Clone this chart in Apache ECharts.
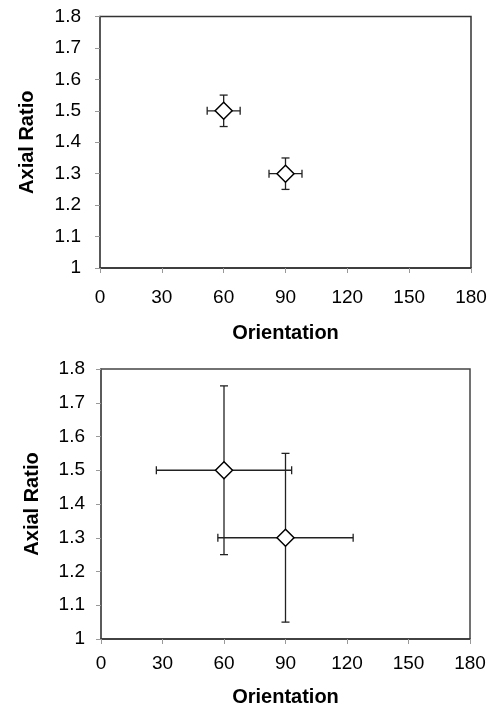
<!DOCTYPE html>
<html>
<head>
<meta charset="utf-8">
<script src="https://cdn.jsdelivr.net/npm/echarts@6/dist/echarts.min.js"></script>
<style>
  html, body { margin: 0; padding: 0; background: #fff; }
  #chart { width: 499px; height: 708px; }
</style>
</head>
<body>
<div id="chart"></div>
<script>
// data
var orientation = [60, 90];
var axialRatio = [1.5, 1.3];
// upper panel error bars
var topOrientErr = [8, 8];
var topRatioErr = [0.05, 0.05];
// lower panel error bars
var bottomOrientErr = [33, 33];
var bottomRatioErr = [0.25, 0.25];
// axes
var xRange = [0, 180], xStep = 30;
var yRange = [1, 1.8], yStep = 0.1;

var FONT = 'Liberation Sans, Arial, sans-serif';

function points() {
    return orientation.map(function (x, i) { return [x, axialRatio[i]]; });
}
function errData(xe, ye) {
    return orientation.map(function (x, i) { return [x, axialRatio[i], xe[i], ye[i]]; });
}

function renderErr(params, api) {
    var x = api.value(0), y = api.value(1), xe = api.value(2), ye = api.value(3);
    var l = api.coord([x - xe, y]), r = api.coord([x + xe, y]);
    var t = api.coord([x, y + ye]), b = api.coord([x, y - ye]);
    var c = 4;
    var st = { stroke: '#222', lineWidth: 1.3 };
    function ln(x1, y1, x2, y2) {
        return { type: 'line', shape: { x1: x1, y1: y1, x2: x2, y2: y2 }, style: st };
    }
    return {
        type: 'group',
        children: [
            ln(l[0], l[1], r[0], r[1]),
            ln(t[0], t[1], b[0], b[1]),
            ln(l[0], l[1] - c, l[0], l[1] + c),
            ln(r[0], r[1] - c, r[0], r[1] + c),
            ln(t[0] - c, t[1], t[0] + c, t[1]),
            ln(b[0] - c, b[1], b[0] + c, b[1])
        ]
    };
}

function xAxisCfg(idx, gap, margin) {
    return {
        type: 'value', gridIndex: idx, min: xRange[0], max: xRange[1], interval: xStep,
        name: 'Orientation', nameLocation: 'middle', nameGap: gap,
        nameTextStyle: { fontFamily: FONT, fontWeight: 'bold', fontSize: 20, color: '#000' },
        axisLine: { show: true, lineStyle: { color: '#333', width: 1.5 } },
        axisTick: { show: true, length: 5, lineStyle: { color: '#999' } },
        axisLabel: { fontFamily: FONT, fontSize: 19, color: '#000', margin: margin },
        splitLine: { show: false }
    };
}
function yAxisCfg(idx, gap, margin) {
    return {
        type: 'value', gridIndex: idx, min: yRange[0], max: yRange[1], interval: yStep,
        name: 'Axial Ratio', nameLocation: 'middle', nameGap: gap,
        nameTextStyle: { fontFamily: FONT, fontWeight: 'bold', fontSize: 20, color: '#000' },
        axisLine: { show: true, lineStyle: { color: '#555', width: 1.5 } },
        axisTick: { show: true, length: 5, lineStyle: { color: '#999' } },
        axisLabel: { fontFamily: FONT, fontSize: 19, color: '#000', margin: margin },
        splitLine: { show: false }
    };
}

var myChart = echarts.init(document.getElementById('chart'));
var option = {
    animation: false,
    backgroundColor: '#fff',
    grid: [
        { left: 100, top: 16.5, width: 371, height: 251.5, show: true, borderColor: '#333', borderWidth: 1.5 },
        { left: 101, top: 369, width: 369, height: 271, show: true, borderColor: '#444', borderWidth: 1.5 }
    ],
    xAxis: [xAxisCfg(0, 55, 20), xAxisCfg(1, 48, 15)],
    yAxis: [yAxisCfg(0, 63, 19), yAxisCfg(1, 59, 16)],
    series: [
        {
            type: 'custom', xAxisIndex: 0, yAxisIndex: 0, z: 2,
            renderItem: renderErr, data: errData(topOrientErr, topRatioErr)
        },
        {
            type: 'scatter', xAxisIndex: 0, yAxisIndex: 0, z: 3,
            symbol: 'diamond', symbolSize: 17,
            itemStyle: { color: '#fff', borderColor: '#000', borderWidth: 1.5, opacity: 1 },
            data: points()
        },
        {
            type: 'custom', xAxisIndex: 1, yAxisIndex: 1, z: 2,
            renderItem: renderErr, data: errData(bottomOrientErr, bottomRatioErr)
        },
        {
            type: 'scatter', xAxisIndex: 1, yAxisIndex: 1, z: 3,
            symbol: 'diamond', symbolSize: 17,
            itemStyle: { color: '#fff', borderColor: '#000', borderWidth: 1.5, opacity: 1 },
            data: points()
        }
    ]
};
option && myChart.setOption(option);
</script>
</body>
</html>
